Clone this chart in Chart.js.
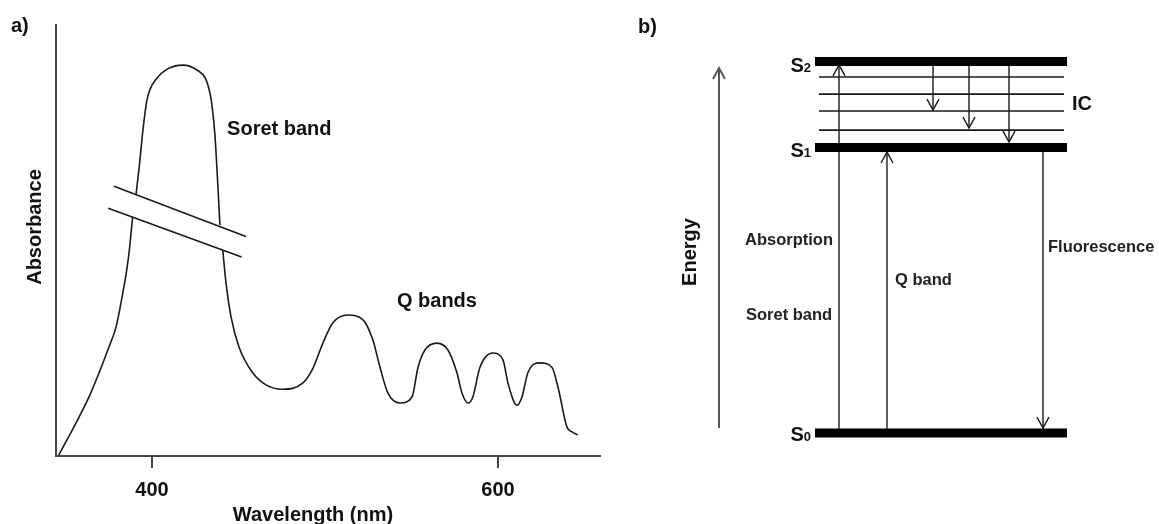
<!DOCTYPE html>
<html>
<head>
<meta charset="utf-8">
<script src="https://cdn.jsdelivr.net/npm/chart.js@4.4.1/dist/chart.umd.min.js"></script>
<style>
  html, body { margin:0; padding:0; background:#fff; }
  #wrap { position:relative; width:1159px; height:524px; overflow:hidden; background:#fff; }
  #ca { position:absolute; left:0; top:0; }
  #cb { position:absolute; left:620px; top:0; }
</style>
</head>
<body>
<div id="wrap">
  <canvas id="ca" width="620" height="524"></canvas>
  <canvas id="cb" width="539" height="524"></canvas>
</div>
<script>
// ---------- Panel a) data : absorption spectrum (null = break in curve) ----------
const wavelength = [
  346.1, 356.1, 363.6, 369.4, 375.1, 379.2, 383.1, 385.4, 386.9, 388.8,
  null,
  390.8, 392.6, 394.6, 396.9, 398.8, 402.7, 408.5, 418.0, 426.2, 430.9, 433.5, 434.5, 436.3, 439.3,
  null,
  440.9, 442.8, 445.7, 450.3, 458.2, 465.9, 475.5, 487.1, 493.1, 498.8, 504.6, 513.3, 522.0, 527.7,
  531.8, 536.4, 543.4, 550.3, 553.8, 557.8, 564.7, 571.1, 576.3, 579.2, 582.7, 585.5, 589.6, 597.1,
  602.9, 605.8, 611.0, 613.9, 617.3, 624.3, 631.2, 634.7, 639.9, 642.8, 646.2
];
const absorbance = [
  0.002, 0.077, 0.137, 0.193, 0.253, 0.299, 0.378, 0.432, 0.478, 0.555,
  null,
  0.608, 0.670, 0.750, 0.822, 0.850, 0.876, 0.897, 0.907, 0.895, 0.876, 0.842, 0.819, 0.749, 0.536,
  null,
  0.478, 0.401, 0.323, 0.253, 0.193, 0.165, 0.155, 0.169, 0.204, 0.262, 0.309, 0.327, 0.316, 0.269,
  0.206, 0.146, 0.123, 0.137, 0.206, 0.246, 0.262, 0.246, 0.193, 0.146, 0.123, 0.137, 0.206, 0.239,
  0.223, 0.169, 0.118, 0.137, 0.193, 0.216, 0.206, 0.160, 0.067, 0.056, 0.049
];
const xTicks = [400, 600];
// axis break marks (two parallel slanted strokes across the Soret band)
const breakUpperX = [378.0, 454.3], breakUpperY = [0.626, 0.509];
const breakLowerX = [374.7, 451.8], breakLowerY = [0.575, 0.462];

// ---------- Panel b) data : Jablonski diagram ----------
const levelNames  = ['S0', 'S1', 'S2'];
const levelEnergy = [0, 1.0, 1.301];
const vibEnergy   = [1.247, 1.187, 1.128, 1.061];
const arrowNames  = ['Soret band', 'Q band', 'IC', 'IC', 'IC', 'Fluorescence'];
const arrowX      = [219, 267, 313, 349, 389, 423];
const arrowFrom   = [0, 0, 1.301, 1.301, 1.301, 1.0];
const arrowTo     = [1.289, 0.984, 1.131, 1.068, 1.019, 0.0175];
const energyAxisX = [99, 99], energyAxisE = [0.0175, 1.278];

const FONT = "'Liberation Sans', Arial, sans-serif";

// ---------- plugins ----------
const arrowHeads = {
  id: 'arrowHeads',
  afterDatasetsDraw(chart) {
    const ctx = chart.ctx;
    chart.data.datasets.forEach((ds, i) => {
      if (!ds.arrow) return;
      const pts = chart.getDatasetMeta(i).data;
      const a = pts[0], b = pts[pts.length - 1];
      const ang = Math.atan2(b.y - a.y, b.x - a.x);
      const L = 12.5, spread = 0.5;
      ctx.save();
      ctx.strokeStyle = ds.borderColor;
      ctx.lineWidth = ds.borderWidth;
      ctx.beginPath();
      ctx.moveTo(b.x - L * Math.cos(ang - spread), b.y - L * Math.sin(ang - spread));
      ctx.lineTo(b.x, b.y);
      ctx.lineTo(b.x - L * Math.cos(ang + spread), b.y - L * Math.sin(ang + spread));
      ctx.stroke();
      ctx.restore();
    });
  }
};

function drawText(ctx, t) {
  ctx.save();
  ctx.font = t.font;
  ctx.fillStyle = t.color || '#111';
  ctx.textAlign = t.align || 'left';
  ctx.textBaseline = t.baseline || 'alphabetic';
  if (t.rot) {
    ctx.translate(t.x, t.y);
    ctx.rotate(t.rot);
    ctx.fillText(t.text, 0, 0);
  } else {
    ctx.fillText(t.text, t.x, t.y);
  }
  ctx.restore();
}

const textA = {
  id: 'textA',
  afterDraw(chart) {
    const ctx = chart.ctx, xs = chart.scales.x, ys = chart.scales.y;
    const big = 'bold 20px ' + FONT;
    [
      { text: 'a)', x: 11, y: 32, font: big },
      { text: 'Absorbance', x: 35, y: 227, font: big, rot: -Math.PI / 2, align: 'center', baseline: 'middle' },
      { text: 'Wavelength (nm)', x: 313, y: 521, font: big, align: 'center' },
      { text: 'Soret band', x: xs.getPixelForValue(443.4), y: ys.getPixelForValue(0.745), font: big },
      { text: 'Q bands', x: xs.getPixelForValue(541.6), y: ys.getPixelForValue(0.346), font: big }
    ].forEach(t => drawText(ctx, t));
  }
};

const textB = {
  id: 'textB',
  afterDraw(chart) {
    const ctx = chart.ctx, xs = chart.scales.x, ys = chart.scales.y;
    const big = 'bold 20px ' + FONT, mid = 'bold 16.5px ' + FONT, sub = 'bold 13px ' + FONT;
    const ox = 620;
    drawText(ctx, { text: 'b)', x: 638 - ox, y: 33, font: big });
    drawText(ctx, { text: 'Energy', x: 690 - ox, y: 252, font: big, rot: -Math.PI / 2, align: 'center', baseline: 'middle' });
    // level labels
    const sBase = [441, 157, 72];
    levelNames.forEach((n, i) => {
      const y = sBase[i];
      const xr = xs.getPixelForValue(195) - 4;
      ctx.save();
      ctx.font = sub;
      const w = ctx.measureText(n.slice(1)).width;
      ctx.restore();
      drawText(ctx, { text: n.slice(1), x: xr, y: y, font: sub, align: 'right' });
      drawText(ctx, { text: n[0], x: xr - w, y: y, font: big, align: 'right' });
    });
    drawText(ctx, { text: 'IC', x: 1072 - ox, y: 110, font: big });
    drawText(ctx, { text: 'Absorption', x: 745 - ox, y: 245, font: mid, color: '#222' });
    drawText(ctx, { text: arrowNames[0], x: 746 - ox, y: 320, font: mid, color: '#222' });
    drawText(ctx, { text: arrowNames[1], x: 895 - ox, y: 285, font: mid, color: '#222' });
    drawText(ctx, { text: arrowNames[5], x: 1048 - ox, y: 252, font: mid, color: '#222' });
  }
};

// ---------- Chart a ----------
const spectrum = wavelength.map((w, i) => ({ x: w === null ? (wavelength[i - 1] + 0.5) : w, y: absorbance[i] }));
new Chart(document.getElementById('ca'), {
  type: 'scatter',
  data: {
    datasets: [
      { data: spectrum, showLine: true, spanGaps: false, borderColor: '#1a1a1a', borderWidth: 1.6,
        pointRadius: 0, cubicInterpolationMode: 'monotone' },
      { data: breakUpperX.map((x, i) => ({ x, y: breakUpperY[i] })), showLine: true, borderColor: '#1a1a1a',
        borderWidth: 1.6, pointRadius: 0 },
      { data: breakLowerX.map((x, i) => ({ x, y: breakLowerY[i] })), showLine: true, borderColor: '#1a1a1a',
        borderWidth: 1.6, pointRadius: 0 }
    ]
  },
  options: {
    responsive: false, animation: false, devicePixelRatio: 1,
    layout: { padding: { left: 0, right: 20, top: 25, bottom: 0 } },
    plugins: { legend: { display: false }, tooltip: { enabled: false } },
    scales: {
      x: {
        type: 'linear', min: 344.5, max: 659,
        afterFit(s) { s.height = 68; },
        afterBuildTicks(s) { s.ticks = xTicks.map(v => ({ value: v })); },
        grid: { drawOnChartArea: false, drawTicks: true, tickLength: 12, color: '#444', lineWidth: 2 },
        border: { display: true, color: '#444', width: 2 },
        ticks: { font: { family: FONT, size: 20, weight: 'bold' }, color: '#111', padding: 10,
                 maxRotation: 0, autoSkip: false }
      },
      y: {
        type: 'linear', min: 0, max: 1,
        afterFit(s) { s.width = 56; },
        ticks: { display: false },
        grid: { display: false },
        border: { display: true, color: '#444', width: 2 }
      }
    }
  },
  plugins: [textA]
});

// ---------- Chart b ----------
const dsB = [];
const LX0 = 195, LX1 = 447, VX0 = 199, VX1 = 444;
levelEnergy.forEach(e => dsB.push({ data: [{ x: LX0, y: e }, { x: LX1, y: e }], borderColor: '#000',
  borderWidth: 9, borderCapStyle: 'butt' }));
vibEnergy.forEach(e => dsB.push({ data: [{ x: VX0, y: e }, { x: VX1, y: e }], borderColor: '#1a1a1a',
  borderWidth: 1.6 }));
arrowX.forEach((x, i) => dsB.push({ data: [{ x, y: arrowFrom[i] }, { x, y: arrowTo[i] }], borderColor: '#1a1a1a',
  borderWidth: 1.4, arrow: true }));
dsB.push({ data: energyAxisX.map((x, i) => ({ x, y: energyAxisE[i] })), borderColor: '#555', borderWidth: 2, arrow: true });
dsB.forEach(d => { d.showLine = true; d.pointRadius = 0; });

new Chart(document.getElementById('cb'), {
  type: 'scatter',
  data: { datasets: dsB },
  options: {
    responsive: false, animation: false, devicePixelRatio: 1,
    layout: { padding: 0 },
    plugins: { legend: { display: false }, tooltip: { enabled: false } },
    scales: {
      x: { type: 'linear', display: false, min: 0, max: 539 },
      y: { type: 'linear', display: false, min: -0.3187, max: 1.5166 }
    }
  },
  plugins: [arrowHeads, textB]
});
</script>
</body>
</html>
